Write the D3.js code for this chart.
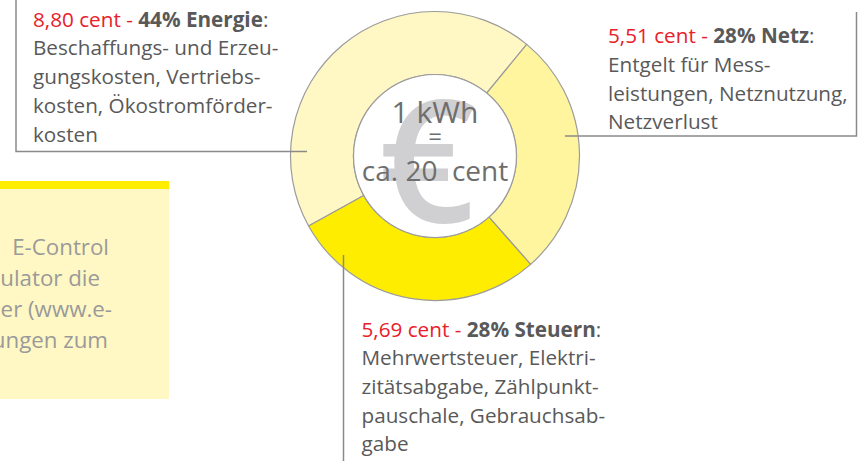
<!DOCTYPE html>
<html>
<head>
<meta charset="utf-8">
<script src="https://cdn.jsdelivr.net/npm/d3@7"></script>
<style>
  html, body { margin: 0; padding: 0; background: #fff; }
  svg { display: block; font-family: "Open Sans", "Noto Sans", sans-serif; }
</style>
</head>
<body>
<svg id="chart" width="859" height="461"></svg>
<script>
// ---- data ----
const categories = ["Energie", "Netz", "Steuern"];
const cents = [8.80, 5.51, 5.69];
const centLabels = ["8,80 cent", "5,51 cent", "5,69 cent"];
const percents = [44, 28, 28];
const descriptions = [
  ["Beschaffungs- und Erzeu-", "gungskosten, Vertriebs-", "kosten, Ökostromförder-", "kosten"],
  ["Entgelt für Mess-", "leistungen, Netznutzung,", "Netzverlust"],
  ["Mehrwertsteuer, Elektri-", "zitätsabgabe, Zählpunkt-", "pauschale, Gebrauchsab-", "gabe"]
];
const centerLines = ["1 kWh", "=", "ca. 20\u00a0 cent"];
const sideNoteLines = ["E-Control", "ulator die", "er (www.e-", "ungen zum"];

// ---- styles ----
const sliceColors = ["#FFF8C5", "#FFF59F", "#FFED00"];
const red = "#E8202A", dark = "#595959";

const svg = d3.select("#chart");
const cx = 435, cy = 156, rOuter = 144.5, rInner = 81.5;

// side note box (left)
const note = svg.append("g");
note.append("rect").attr("x", 0).attr("y", 189).attr("width", 169).attr("height", 210).attr("fill", "#FFF8C4");
note.append("rect").attr("x", 0).attr("y", 181).attr("width", 169).attr("height", 8).attr("fill", "#FFED00");
const noteRight = [109, 100, 112, 108];
const noteBase = [255, 286, 317, 348];
sideNoteLines.forEach((t, i) => {
  note.append("text").attr("x", noteRight[i]).attr("y", noteBase[i])
    .attr("text-anchor", "end").attr("font-size", 22.3).attr("fill", "#9A9A9A").text(t);
});

// donut
const startDeg = -119;
const pie = d3.pie().sort(null)
  .startAngle(startDeg * Math.PI / 180)
  .endAngle(startDeg * Math.PI / 180 + 2 * Math.PI);
const arc = d3.arc().innerRadius(rInner).outerRadius(rOuter);
const g = svg.append("g").attr("transform", `translate(${cx},${cy})`);
g.selectAll("path").data(pie(cents)).join("path")
  .attr("d", arc)
  .attr("fill", (d, i) => sliceColors[i])
  .attr("stroke", "#9B9B9B").attr("stroke-width", 1.2);
g.append("circle").attr("r", rInner).attr("fill", "#fff").attr("stroke", "#9B9B9B").attr("stroke-width", 1.2);

// euro sign + center text
g.append("text").attr("x", -8).attr("y", 66).attr("text-anchor", "middle")
  .attr("font-size", 170).attr("font-weight", 600).attr("fill", "#D0D0D2").text("\u20AC");
const centerY = [-33.5, -11, 25];
const centerSize = [30, 24, 28];
centerLines.forEach((t, i) => {
  g.append("text").attr("x", 0).attr("y", centerY[i]).attr("text-anchor", "middle")
    .attr("font-size", centerSize[i]).attr("fill", "#6E6E6E").text(t);
});

// leader / callout lines
const lineColor = "#8A8A8A";
const leaders = [
  [[16, 0], [16, 151.5], [307, 151.5]],
  [[565, 136], [856.5, 136], [856.5, 12]],
  [[343.5, 255], [343.5, 461]]
];
leaders.forEach(pts => {
  svg.append("path").attr("d", d3.line()(pts)).attr("fill", "none")
    .attr("stroke", lineColor).attr("stroke-width", 1.5);
});

// callout texts
const labelPos = [[33, 26.7], [608, 43.3], [361.5, 336.5]];
const lh = 28.7, fs = 20.7;
categories.forEach((c, i) => {
  const [x, y] = labelPos[i];
  const t = svg.append("text").attr("x", x).attr("y", y).attr("font-size", fs);
  t.append("tspan").attr("fill", red).text(centLabels[i] + " - ");
  t.append("tspan").attr("fill", dark).attr("font-weight", "bold").text(percents[i] + "% " + c);
  t.append("tspan").attr("fill", dark).text(":");
  descriptions[i].forEach((line, j) => {
    svg.append("text").attr("x", x).attr("y", y + lh * (j + 1)).attr("font-size", fs)
      .attr("fill", dark).text(line);
  });
});
</script>
</body>
</html>
